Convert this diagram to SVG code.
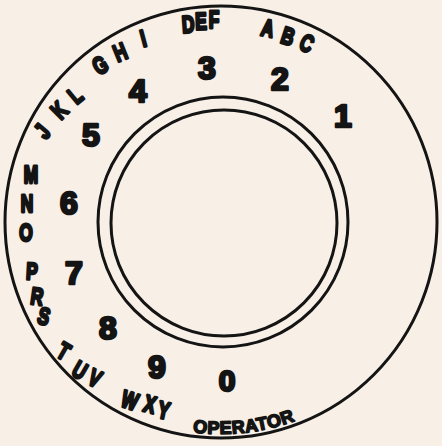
<svg xmlns="http://www.w3.org/2000/svg" width="442" height="446" viewBox="0 0 442 446">
<style>
.ring{fill:none;stroke:#141414;stroke-width:3}
.d{font-family:"Liberation Sans",Arial,sans-serif;font-weight:bold;font-size:32px;fill:#141414;stroke:#141414;stroke-width:2.6;stroke-linejoin:round;text-anchor:middle}
.l{font-family:"Liberation Sans",Arial,sans-serif;font-weight:bold;font-size:24px;fill:#141414;stroke:#141414;stroke-width:2.8;stroke-linejoin:round;text-anchor:middle}
.op{font-family:"Liberation Sans",Arial,sans-serif;font-weight:bold;font-size:18px;letter-spacing:0.5px;fill:#141414;stroke:#141414;stroke-width:1.6;stroke-linejoin:round}
</style>
<defs>
<path id="opArc" d="M 184.2 430.8 A 212 212 0 0 0 327 405.6"/>
</defs>
<rect width="442" height="446" fill="#f8efe6"/>
<g id="dial">
<circle class="ring" cx="221" cy="222" r="216" stroke-width="2.8"/>
<circle class="ring" cx="223" cy="222" r="125"/>
<circle class="ring" cx="224" cy="223" r="113"/>
</g>
<g id="digits">
<text class="d" x="343" y="127">1</text>
<text class="d" x="280" y="90">2</text>
<text class="d" x="207" y="79">3</text>
<text class="d" x="138" y="102">4</text>
<text class="d" x="91" y="146">5</text>
<text class="d" x="69" y="214">6</text>
<text class="d" x="74" y="284">7</text>
<text class="d" x="108" y="339">8</text>
<text class="d" x="157" y="378">9</text>
<text class="d" x="227" y="391" style="font-size:30px">0</text>
</g>
<g id="letters">
<text class="l" transform="translate(268 28) rotate(12) scale(0.72 1)" y="8.6">A</text>
<text class="l" transform="translate(288 36) rotate(18) scale(0.72 1)" y="8.6">B</text>
<text class="l" transform="translate(307 43) rotate(24) scale(0.72 1)" y="8.6">C</text>
<text class="l" transform="translate(188 24) rotate(-4) scale(0.72 1)" y="8.6">D</text>
<text class="l" transform="translate(201 21) rotate(-2) scale(0.72 1)" y="8.6">E</text>
<text class="l" transform="translate(214 19) rotate(0) scale(0.72 1)" y="8.6">F</text>
<text class="l" transform="translate(100 65) rotate(-30) scale(0.72 1)" y="8.6">G</text>
<text class="l" transform="translate(120 52) rotate(-22) scale(0.72 1)" y="8.6">H</text>
<text class="l" transform="translate(143 38) rotate(-15) scale(0.72 1)" y="8.6">I</text>
<text class="l" transform="translate(42 131) rotate(-50) scale(0.72 1)" y="8.6">J</text>
<text class="l" transform="translate(59 110) rotate(-45) scale(0.72 1)" y="8.6">K</text>
<text class="l" transform="translate(75 95) rotate(-40) scale(0.72 1)" y="8.6">L</text>
<text class="l" transform="translate(31 174) scale(0.72 1)" y="8.6">M</text>
<text class="l" transform="translate(27 203) scale(0.72 1)" y="8.6">N</text>
<text class="l" transform="translate(26 232) scale(0.72 1)" y="8.6">O</text>
<text class="l" transform="translate(32 271) rotate(3) scale(0.72 1)" y="8.6">P</text>
<text class="l" transform="translate(37 296) rotate(8) scale(0.72 1)" y="8.6">R</text>
<text class="l" transform="translate(44 316) rotate(15) scale(0.72 1)" y="8.6">S</text>
<text class="l" transform="translate(64 351) rotate(30) scale(0.72 1)" y="8.6">T</text>
<text class="l" transform="translate(80 370) rotate(30) scale(0.72 1)" y="8.6">U</text>
<text class="l" transform="translate(95 378) rotate(25) scale(0.72 1)" y="8.6">V</text>
<text class="l" transform="translate(130 400) rotate(18) scale(0.72 1)" y="8.6">W</text>
<text class="l" transform="translate(150 404) rotate(15) scale(0.72 1)" y="8.6">X</text>
<text class="l" transform="translate(164 410) rotate(12) scale(0.72 1)" y="8.6">Y</text>
<text class="op"><textPath href="#opArc" startOffset="61" text-anchor="middle">OPERATOR</textPath></text>
</g>
</svg>
